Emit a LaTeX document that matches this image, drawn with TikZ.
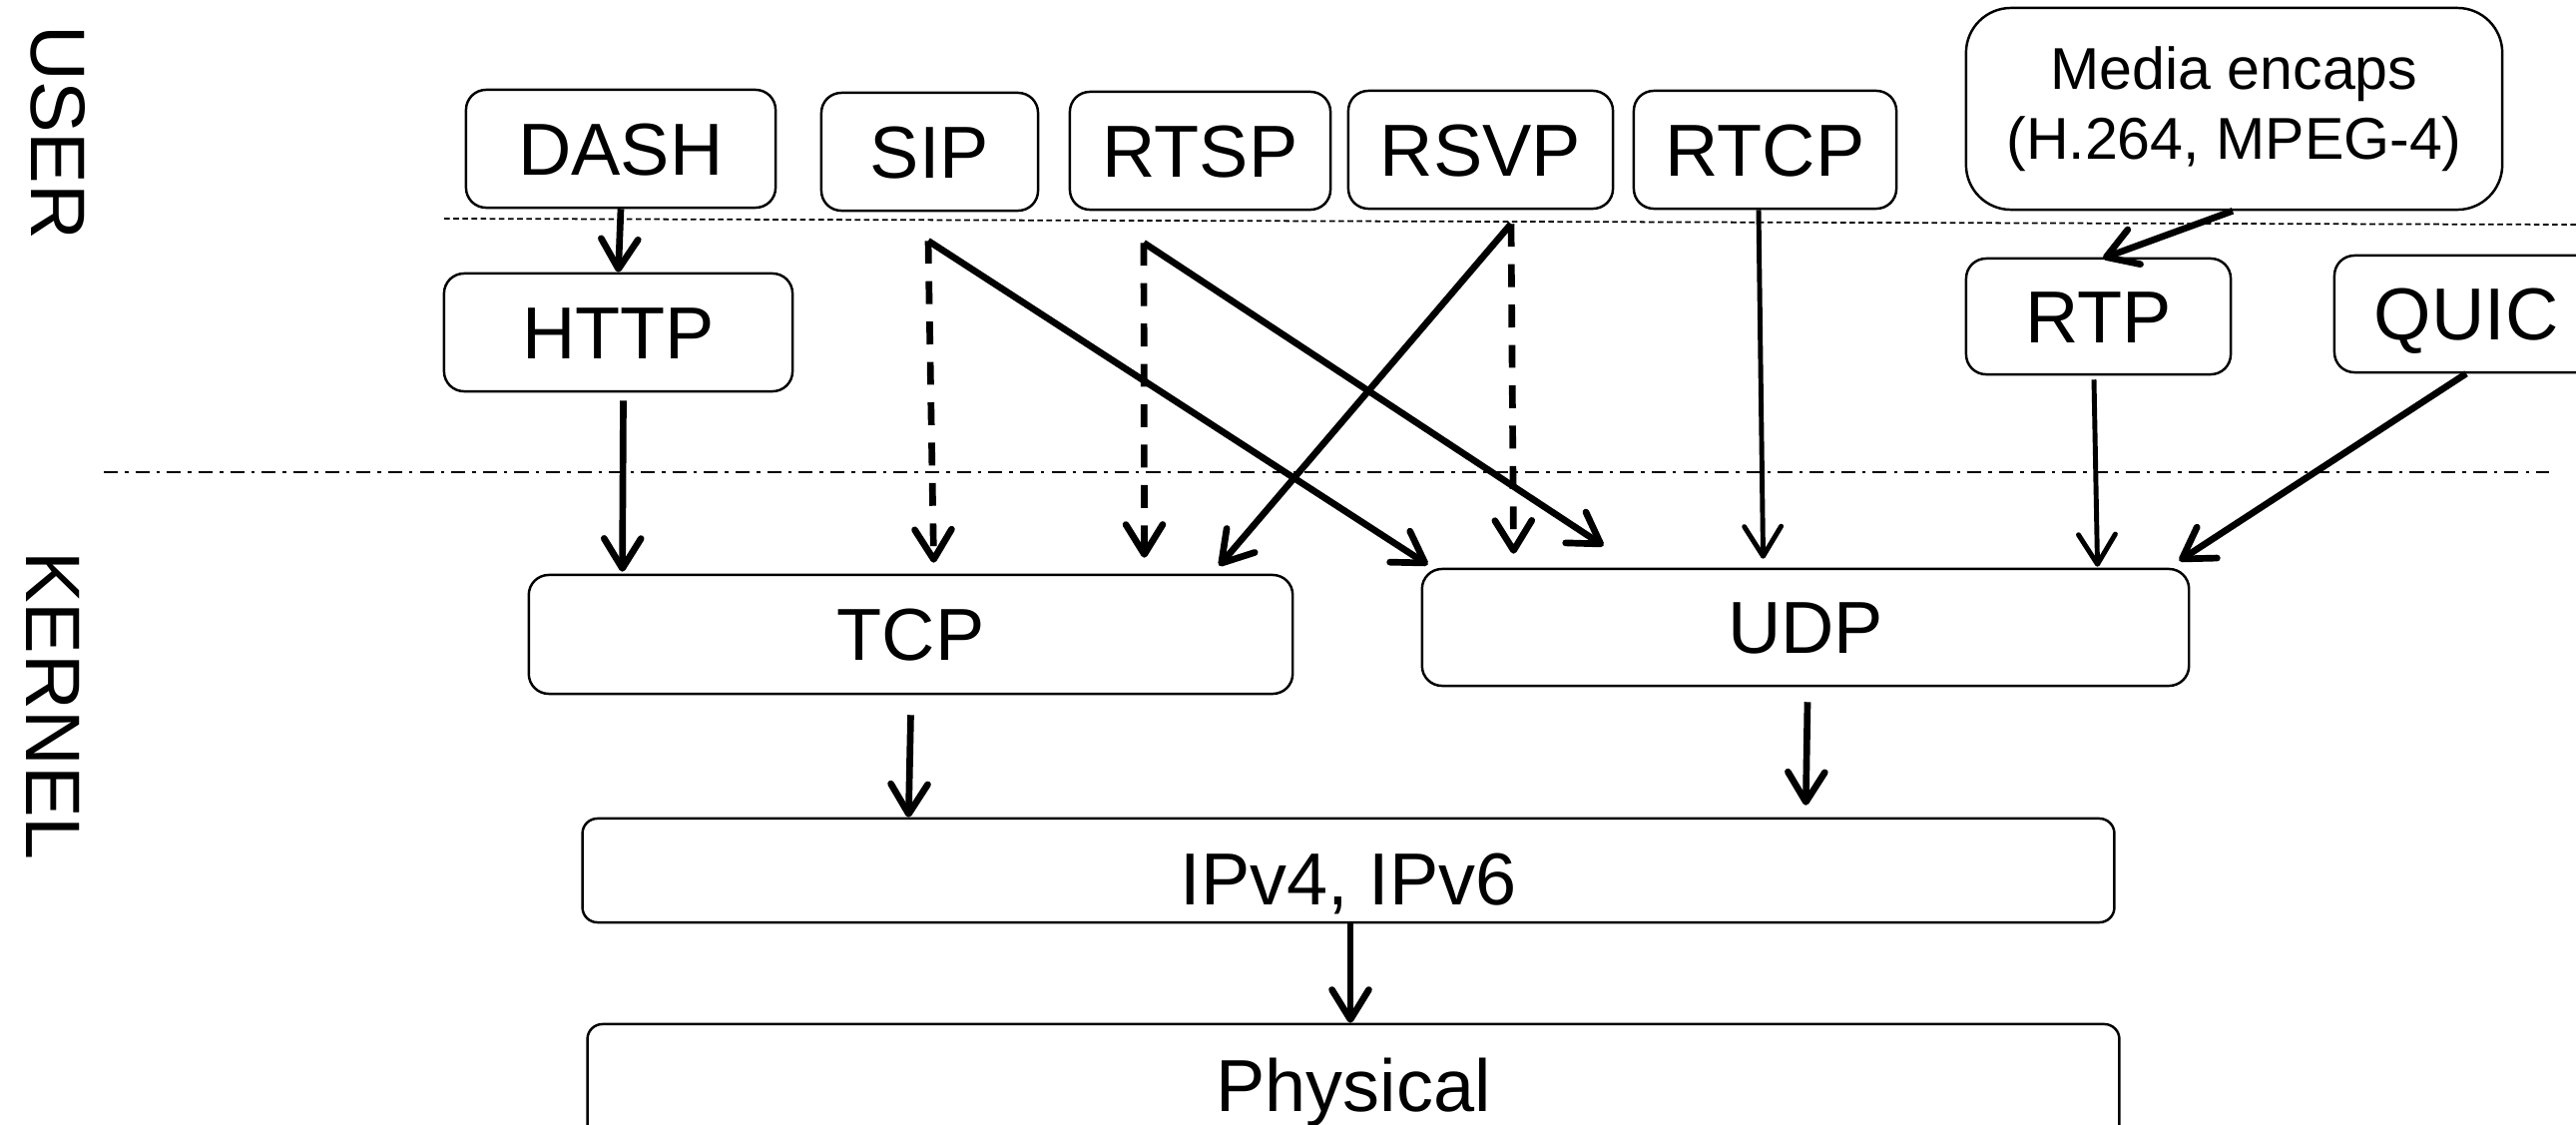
\documentclass[tikz,border=0pt]{standalone}
\usepackage{fontspec}
\setmainfont{Liberation Sans}
\usetikzlibrary{arrows.meta,calc}

\begin{document}
\begin{tikzpicture}[x=0.01cm,y=-0.01cm,
  layerbox/.style={draw, line width=0.7pt, rounded corners=0.2cm, inner sep=0pt,
    font=\fontsize{21}{25}\selectfont, text height=15pt, text depth=0pt},
  flow/.style={line width=1.9pt, -{Straight Barb[length=8.5pt,width=10.5pt,round]}},
  thinflow/.style={flow, line width=1.4pt},
  optflow/.style={flow, dash pattern=on 6.5pt off 5pt},
  side/.style={font=\fontsize{22}{26}\selectfont, rotate=-90, inner sep=0pt}
]
\useasboundingbox (0,0) rectangle (2581,1127);

% space labels
\node[side] (user) at (58,133) {USER};
\node[side] (kernel) at (53,707) {KERNEL};

% boundaries
\draw[line width=0.5pt, dash pattern=on 1.6pt off 1pt] (445,219) -- (2581,225);
\draw[line width=0.6pt, dash pattern=on 4pt off 2pt on 1pt off 2pt] (104,473) -- (2554,473);

% user-space protocols
\node[layerbox, minimum width=3.10cm, minimum height=1.18cm] (dash) at (622,149) {DASH};
\node[layerbox, minimum width=2.17cm, minimum height=1.18cm] (sip) at (931.5,152) {SIP};
\node[layerbox, minimum width=2.61cm, minimum height=1.18cm] (rtsp) at (1202.5,151) {RTSP};
\node[layerbox, minimum width=2.65cm, minimum height=1.18cm] (rsvp) at (1483.5,150) {RSVP};
\node[layerbox, minimum width=2.63cm, minimum height=1.18cm] (rtcp) at (1768.5,150) {RTCP};
\node[layerbox, rounded corners=0.45cm, minimum width=5.37cm, minimum height=2.02cm,
  align=center, font=\fontsize{16.8}{19.9}\selectfont, text height=, text depth=] (media) at (2238.5,109)
  {Media encaps\\(H.264, MPEG-4)};
\node[layerbox, minimum width=3.49cm, minimum height=1.18cm] (http) at (619.5,333) {HTTP};
\node[layerbox, minimum width=2.65cm, minimum height=1.16cm] (rtp) at (2102.5,317) {RTP};
\node[layerbox, minimum width=2.64cm, minimum height=1.17cm] (quic) at (2471,314.5) {QUIC};

% kernel layers
\node[layerbox, minimum width=7.65cm, minimum height=1.19cm] (tcp) at (912.5,635.5) {TCP};
\node[layerbox, minimum width=7.68cm, minimum height=1.17cm] (udp) at (1809,628.5) {UDP};
\node[layerbox, rounded corners=0.15cm, minimum width=15.34cm, minimum height=1.04cm,
  text height=19.6pt] (ip) at (1351,872) {IPv4, IPv6};
\node[layerbox, rounded corners=0.15cm, minimum width=15.34cm, minimum height=1.22cm] (phys) at (1356,1087) {Physical};

% branch points below the signalling protocols
\coordinate (sipc) at ($(sip.south)+(-1.5,29)$);
\coordinate (rtspc) at ($(rtsp.south)+(-56.5,32)$);
\coordinate (rsvpc) at ($(rsvp.south)+(30.5,14)$);

% connectors
\draw[flow] (dash.south) -- (http.north);
\draw[flow] ($(http.south)+(5,8)$) -- ($(tcp.north west)+(95,-2)$);

\draw[optflow] (sipc) -- ($(tcp.north west)+(407,-11)$);
\draw[flow] (sipc) -- ($(udp.north west)+(7,-3)$);

\draw[optflow] (rtspc) -- ($(tcp.north west)+(618,-16)$);
\draw[flow] (rtspc) -- ($(udp.north west)+(183,-22)$);

\draw[flow] (rsvpc) -- ($(tcp.north west)+(693,-8)$);
\draw[optflow] (rsvpc) -- ($(udp.north west)+(93,-14)$);

\draw[thinflow] ($(rtcp.south)+(-6.5,0)$) -- ($(udp.north west)+(343,-9)$);

\draw[flow] ($(media.south)+(-1.5,0)$) -- ($(rtp.north)+(4.5,1)$);
\draw[thinflow] ($(rtp.south)+(-4.5,4)$) -- ($(udp.north west)+(678,-1)$);
\draw[flow] (quic.south) -- ($(udp.north east)+(-11,-7)$);

\draw[flow] ($(tcp.south)+(0,20)$) -- ($(ip.north west)+(328,0)$);
\draw[flow] ($(udp.south)+(2,15)$) -- ($(ip.north west)+(1227,-12)$);
\draw[flow] ($(ip.south)+(2,0)$) -- ($(phys.north)+(-3,0)$);
\end{tikzpicture}
\end{document}
